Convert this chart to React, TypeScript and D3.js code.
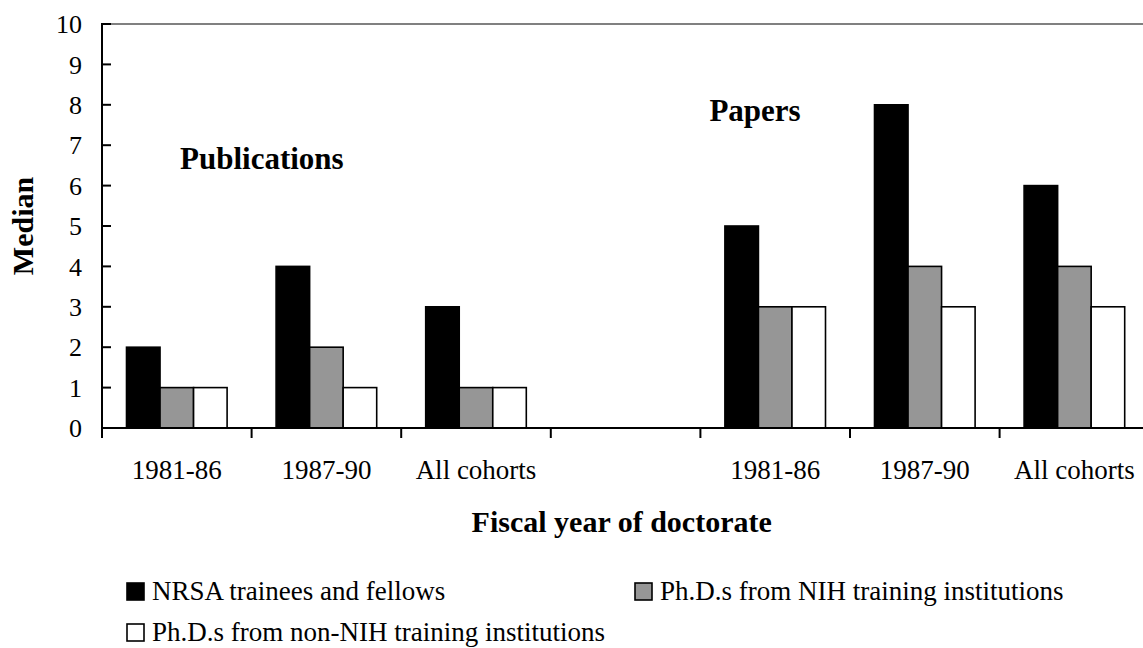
import React from "react";
import * as d3 from "d3";

const categories = ["1981-86", "1987-90", "All cohorts", "", "1981-86", "1987-90", "All cohorts"];
const nrsa = [2, 4, 3, null, 5, 8, 6];
const nihInst = [1, 2, 1, null, 3, 4, 4];
const nonNihInst = [1, 1, 1, null, 3, 3, 3];
const seriesNames = ["NRSA trainees and fellows", "Ph.D.s from NIH training institutions", "Ph.D.s from non-NIH training institutions"];
const seriesColors = ["#000000", "#969696", "#ffffff"];
const yTicks = [0, 1, 2, 3, 4, 5, 6, 7, 8, 9, 10];
const annotations = [
  { text: "Publications", cat: 0, value: 6.4, dx: 78 },
  { text: "Papers", cat: 4, value: 7.6, dx: 9 },
];

const W = 1143;
const H = 648;
const FONT = "Liberation Serif, Times New Roman, serif";
const ts: React.CSSProperties = { fontFamily: FONT };

export default function App() {
  const left = 102;
  const catW = 149.6;
  const x = d3.scaleBand<number>().domain(d3.range(categories.length)).range([left, left + catW * categories.length]).padding(0);
  const inner = d3.scaleBand<number>().domain([0, 1, 2]).range([24.5, 125.1]).padding(0);
  const y = d3.scaleLinear().domain([0, 10]).range([428, 24]);
  const series = [nrsa, nihInst, nonNihInst];
  const xEnd = left + catW * categories.length;

  return (
    <svg width={W} height={H} style={{ position: "absolute", left: 0, top: 0, background: "#fff", fontFamily: FONT }}>
      <rect x={0} y={0} width={W} height={H} fill="#fff" />
      <line x1={left} x2={xEnd} y1={y(10)} y2={y(10)} stroke="#808080" strokeWidth={2} />
      {series.map((vals, si) =>
        vals.map((v, ci) =>
          v == null ? null : (
            <rect
              key={`b${si}-${ci}`}
              x={(x(ci) as number) + (inner(si) as number)}
              y={y(v)}
              width={inner.bandwidth()}
              height={y(0) - y(v)}
              fill={seriesColors[si]}
              stroke="#000"
              strokeWidth={1.6}
            />
          )
        )
      )}
      <line x1={left} x2={left} y1={y(10) - 1} y2={y(0) + 10} stroke="#000" strokeWidth={2} />
      {yTicks.map((t) => (
        <g key={`yt${t}`}>
          <line x1={left} x2={left + 9} y1={y(t)} y2={y(t)} stroke="#000" strokeWidth={2} />
          <text x={82} y={y(t)} dy="0.35em" textAnchor="end" fontSize={26} style={ts}>
            {t}
          </text>
        </g>
      ))}
      <line x1={left} x2={xEnd} y1={y(0)} y2={y(0)} stroke="#000" strokeWidth={2} />
      {d3.range(categories.length + 1).map((i) => (
        <line key={`xt${i}`} x1={left + i * catW} x2={left + i * catW} y1={y(0)} y2={y(0) + 10} stroke="#000" strokeWidth={2} />
      ))}
      {categories.map((c, i) => (
        <text key={`xl${i}`} x={(x(i) as number) + x.bandwidth() / 2} y={479} textAnchor="middle" fontSize={27} style={ts}>
          {c}
        </text>
      ))}
      {annotations.map((a) => (
        <text key={a.text} x={(x(a.cat) as number) + a.dx} y={y(a.value)} fontSize={31} fontWeight="bold" style={ts}>
          {a.text}
        </text>
      ))}
      <text transform={`translate(33,226) rotate(-90)`} textAnchor="middle" fontSize={30} fontWeight="bold" style={ts}>
        Median
      </text>
      <text x={621.7} y={531.5} textAnchor="middle" fontSize={30} fontWeight="bold" style={ts}>
        Fiscal year of doctorate
      </text>
      {seriesNames.map((n, i) => {
        const col = i === 1 ? 1 : 0;
        const row = i === 2 ? 1 : 0;
        const lx = col === 0 ? 127 : 635;
        const ly = row === 0 ? 600 : 641;
        return (
          <g key={`lg${i}`}>
            <rect x={lx} y={ly - 17} width={17} height={17} fill={seriesColors[i]} stroke="#000" strokeWidth={1.6} />
            <text x={lx + 25} y={ly} fontSize={27} style={ts}>
              {n}
            </text>
          </g>
        );
      })}
    </svg>
  );
}
